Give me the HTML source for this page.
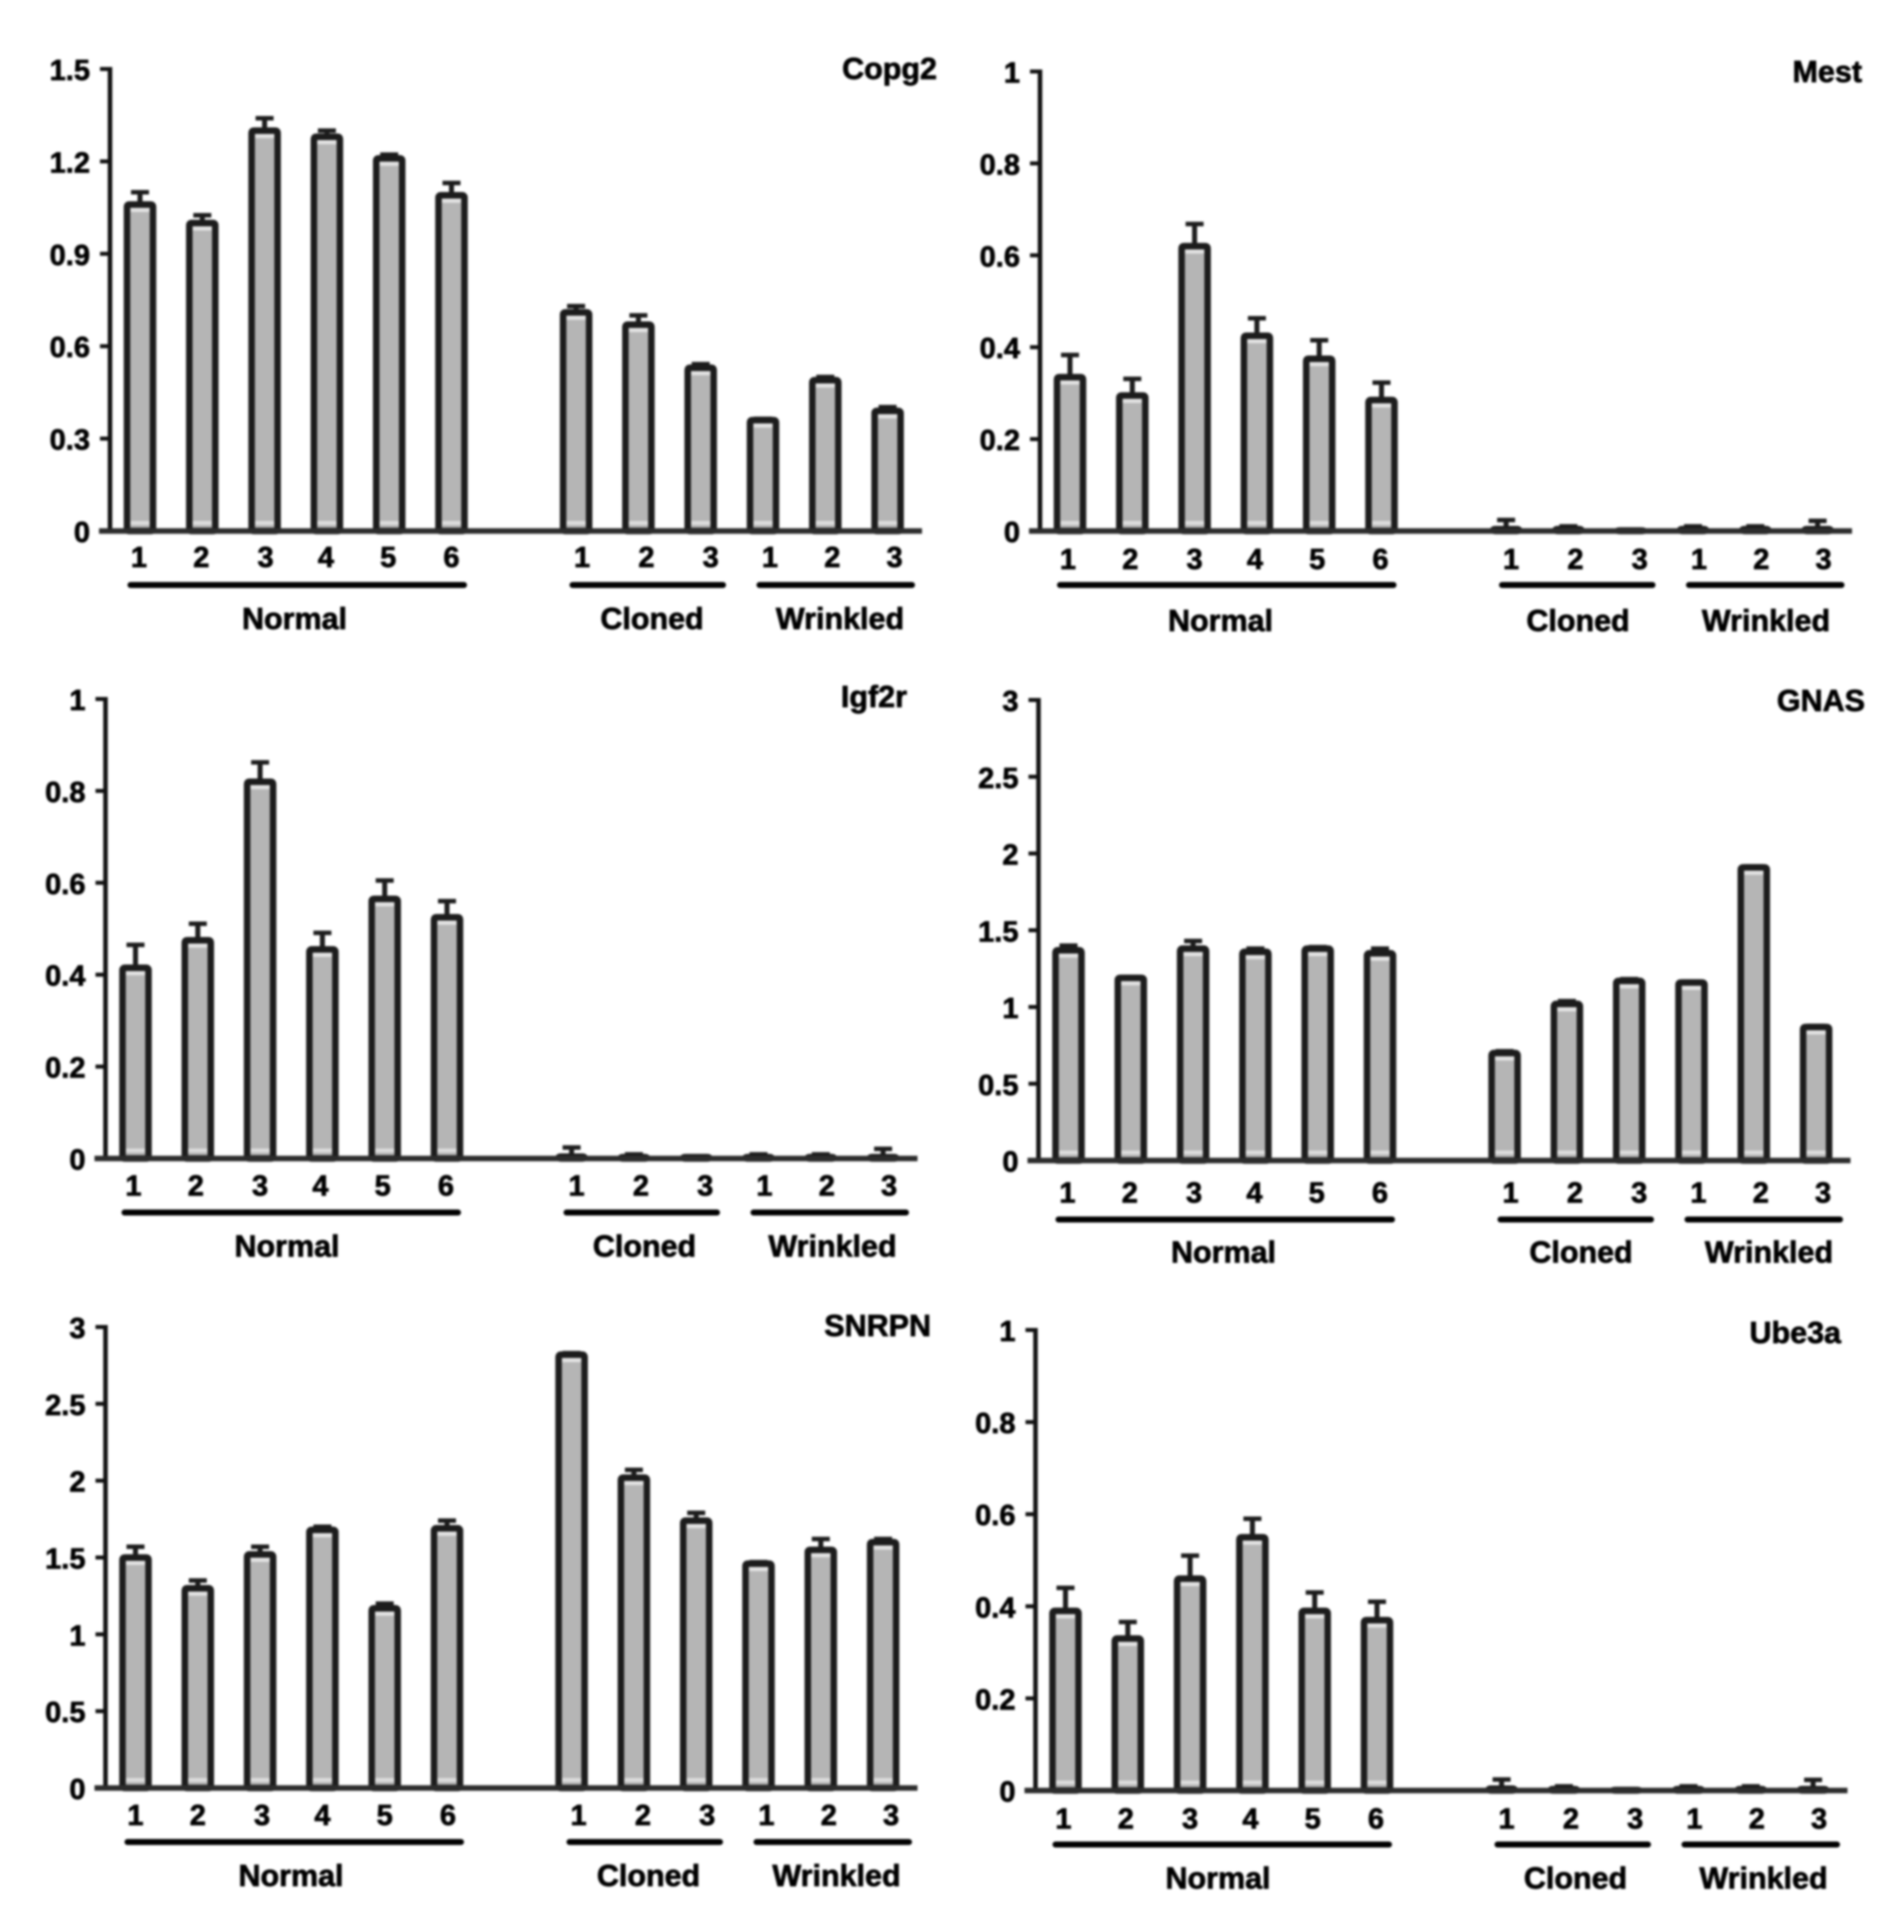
<!DOCTYPE html>
<html lang="en">
<head>
<meta charset="utf-8">
<title>Gene expression bar charts</title>
<style>
  html, body { margin: 0; padding: 0; background: #ffffff; }
  body { width: 1890px; height: 1908px; overflow: hidden; }
  #figure { display: block; filter: blur(1px); }
  text { font-family: "Liberation Sans", Arial, sans-serif; font-weight: bold; fill: #000000; stroke: #000000; stroke-width: 0.7px; }
</style>
</head>
<body>
<svg id="figure" xmlns="http://www.w3.org/2000/svg" width="1890" height="1908" viewBox="0 0 1890 1908"></svg>
<script>
const sampleLabels = ["1","2","3","4","5","6","1","2","3","1","2","3"];
const sampleSlots = [0,1,2,3,4,5,7,8,9,10,11,12];

const copg2Ticks = ["0","0.3","0.6","0.9","1.2","1.5"];
const mestTicks = ["0","0.2","0.4","0.6","0.8","1"];
const igf2rTicks = ["0","0.2","0.4","0.6","0.8","1"];
const gnasTicks = ["0","0.5","1","1.5","2","2.5","3"];
const snrpnTicks = ["0","0.5","1","1.5","2","2.5","3"];
const ube3aTicks = ["0","0.2","0.4","0.6","0.8","1"];

const copg2Values = [1.06,1.00,1.30,1.28,1.21,1.09,0.71,0.67,0.53,0.36,0.49,0.39];
const copg2Errors = [0.04,0.025,0.04,0.02,0.012,0.04,0.02,0.03,0.012,0.004,0.01,0.012];

const mestValues = [0.335,0.295,0.62,0.425,0.375,0.285,0.004,0.004,0.001,0.004,0.004,0.004];
const mestErrors = [0.048,0.036,0.048,0.038,0.04,0.038,0.02,0.006,0.001,0.006,0.006,0.018];

const igf2rValues = [0.415,0.475,0.82,0.455,0.565,0.525,0.004,0.003,0.003,0.003,0.003,0.003];
const igf2rErrors = [0.05,0.036,0.042,0.036,0.04,0.035,0.02,0.006,0.002,0.006,0.006,0.018];

const gnasValues = [1.37,1.19,1.38,1.36,1.38,1.35,0.70,1.02,1.17,1.16,1.91,0.87];
const gnasErrors = [0.03,0.005,0.05,0.02,0.01,0.03,0.012,0.018,0.012,0.005,0.005,0.006];

const snrpnValues = [1.50,1.30,1.52,1.68,1.17,1.69,2.82,2.02,1.74,1.46,1.55,1.60];
const snrpnErrors = [0.07,0.05,0.05,0.02,0.03,0.05,0.01,0.05,0.05,0.01,0.07,0.02];

const ube3aValues = [0.39,0.33,0.46,0.55,0.39,0.37,0.004,0.003,0.001,0.003,0.003,0.003];
const ube3aErrors = [0.05,0.036,0.05,0.04,0.04,0.04,0.02,0.006,0.001,0.006,0.006,0.02];

const panels = [
  { gene:"Copg2", slug:"copg2", ticks:copg2Ticks, values:copg2Values, errors:copg2Errors, max:1.5, ax:110,    top:69,   base:531,    titleRight:937,  titleY:69,   labelDy:0, ruleDy:0, groupDy:0, ruleDx:0.5, groupDx:-1, labelDx:0 },
  { gene:"Mest",  slug:"mest",  ticks:mestTicks,  values:mestValues,  errors:mestErrors,  max:1,   ax:1040,   top:71.5, base:531,    titleRight:1862, titleY:72,   labelDy:2, ruleDy:0, groupDy:2, ruleDx:0,   groupDx:-5, labelDx:-1 },
  { gene:"Igf2r", slug:"igf2r", ticks:igf2rTicks, values:igf2rValues, errors:igf2rErrors, max:1,   ax:105.5,  top:699,  base:1158.5, titleRight:907,  titleY:697,  labelDy:1, ruleDy:0, groupDy:0, ruleDx:-1,  groupDx:-4, labelDx:-1 },
  { gene:"GNAS",  slug:"gnas",  ticks:gnasTicks,  values:gnasValues,  errors:gnasErrors,  max:3,   ax:1038.5, top:700,  base:1160.5, titleRight:1865, titleY:701,  labelDy:6, ruleDy:5, groupDy:4, ruleDx:0,   groupDx:-0.5, labelDx:0 },
  { gene:"SNRPN", slug:"snrpn", ticks:snrpnTicks, values:snrpnValues, errors:snrpnErrors, max:3,   ax:105.5,  top:1327, base:1788,   titleRight:931,  titleY:1326, labelDy:1, ruleDy:0, groupDy:0, ruleDx:2,   groupDx:0, labelDx:1 },
  { gene:"Ube3a", slug:"ube3a", ticks:ube3aTicks, values:ube3aValues, errors:ube3aErrors, max:1,   ax:1035.5, top:1330, base:1790.5, titleRight:1841, titleY:1333, labelDy:2, ruleDy:0, groupDy:0, ruleDx:0,   groupDx:-3, labelDx:-1 }
];

const groupNames = ["Normal","Cloned","Wrinkled"];
const groupLabelX = [185.5,543,731];
const groupLineStart = [20,462,649];
const groupLineEnd = [353.5,612.5,801.5];
const labelNudge = [-1,-1,1,-1,-1,0,6,8,10,7,7,7];

const DARK = "#1c1c1c";
const NS = "http://www.w3.org/2000/svg";
const root = document.getElementById("figure");

function make(parent, tag, attrs, txt) {
  const el = document.createElementNS(NS, tag);
  for (const k in attrs) el.setAttribute(k, attrs[k]);
  if (txt !== undefined) el.textContent = txt;
  parent.appendChild(el);
  return el;
}

function drawPanel(p) {
  const xScale = function (slot) { return p.ax + 30 + 62.3 * slot; };
  const yScale = function (v) { return p.base - (v / p.max) * (p.base - p.top); };

  const g = make(root, "g", {});
  
  

  const yAxis = make(g, "line", { x1:p.ax, x2:p.ax, y1:p.top - 2, y2:p.base, stroke:"#111111", "stroke-width":4.5 });
  
  

  p.ticks.forEach(function (label) {
    const y = yScale(parseFloat(label));
    const tick = make(g, "line", { x1:p.ax - 10, x2:p.ax, y1:y, y2:y, stroke:"#111111", "stroke-width":4 });
    
    
    const t = make(g, "text", { x:p.ax - 20, y:y + 11, "text-anchor":"end", "font-size":29 }, label);
    
    
  });

  p.values.forEach(function (v, i) {
    const c = xScale(sampleSlots[i]);
    const y = yScale(v);
    const e = yScale(v + p.errors[i]);

    const stem = make(g, "line", { x1:c, x2:c, y1:e, y2:y, stroke:DARK, "stroke-width":5 });
    
    
    const cap = make(g, "line", { x1:c - 9, x2:c + 9, y1:e, y2:e, stroke:DARK, "stroke-width":4.5 });
    
    

    const bar = make(g, "rect", { x:c - 13, y:y, width:26, height:Math.max(p.base - y, 0), fill:"#b5b5b5", stroke:DARK, "stroke-width":6.5, rx:2 });
    
    

    if (p.base - y > 20) {
      const hiTop = make(g, "rect", { x:c - 9.5, y:y + 3.5, width:19, height:4, fill:"#e2e2e2" });
      
      
      const hiBottom = make(g, "rect", { x:c - 9.5, y:p.base - 10, width:19, height:4, fill:"#dcdcdc" });
      
      
    }

    const lab = make(g, "text", { x:c + labelNudge[i] + p.labelDx, y:p.base + 36 + p.labelDy, "text-anchor":"middle", "font-size":29 }, sampleLabels[i]);
    
    
  });

  const xAxis = make(g, "line", { x1:p.ax - 11, x2:p.ax + 812, y1:p.base, y2:p.base, stroke:"#2c2c2c", "stroke-width":5.5 });
  
  

  groupNames.forEach(function (name, i) {
    const ry = p.base + 54 + p.ruleDy;
    const rule = make(g, "line", { x1:p.ax + groupLineStart[i] + p.ruleDx, x2:p.ax + groupLineEnd[i] + p.ruleDx, y1:ry, y2:ry, stroke:"#000000", "stroke-width":6, "stroke-linecap":"round" });
    
    
    const t = make(g, "text", { x:p.ax + groupLabelX[i] + p.groupDx, y:p.base + 98 + p.groupDy, "text-anchor":"middle", "font-size":30.5 }, name);
    
    
  });

  const title = make(g, "text", { x:p.titleRight, y:p.titleY + 10, "text-anchor":"end", "font-size":30.5 }, p.gene);
  
  
}

panels.forEach(drawPanel);
</script>
</body>
</html>
